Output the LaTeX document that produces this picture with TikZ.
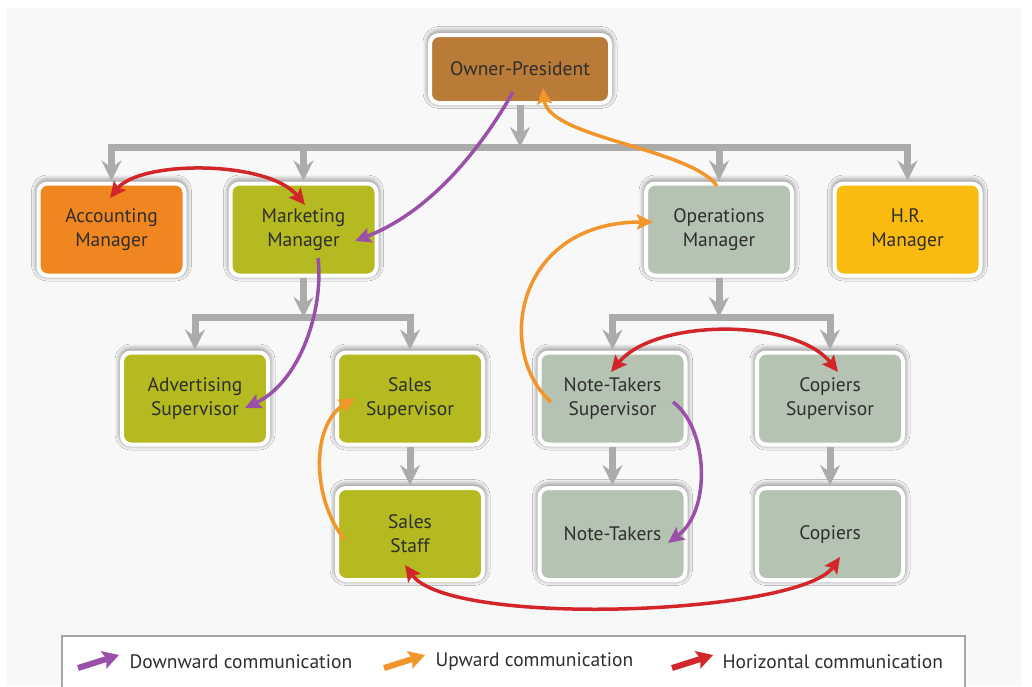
\documentclass[tikz,border=0pt]{standalone}
\usepackage{fontspec}
\setmainfont{PT Sans}
\usetikzlibrary{arrows.meta,calc,shadows.blur}
\definecolor{ownc}{HTML}{B97B37}
\definecolor{accc}{HTML}{F0861F}
\definecolor{olive}{HTML}{B4BA1F}
\definecolor{sage}{HTML}{B5C3B2}
\definecolor{hrc}{HTML}{F9BB10}
\definecolor{txt}{HTML}{2E2E2E}
\definecolor{treegray}{HTML}{ABABAB}
\definecolor{purp}{HTML}{9A4FA8}
\definecolor{orng}{HTML}{F2952B}
\definecolor{redc}{HTML}{D3262B}
\definecolor{bgc}{HTML}{F8F8F8}
\begin{document}
\begin{tikzpicture}[x=1pt,y=-1pt,
  box/.style={rounded corners=9pt, draw=white, line width=4pt,
    minimum width=146pt, minimum height=92pt, align=center, text=txt,
    font=\fontsize{19.5}{24}\selectfont,
    blur shadow={shadow xshift=0pt, shadow yshift=1.5pt, shadow blur radius=7pt, shadow opacity=70, shadow blur steps=10}},
  tree/.style={draw=treegray, line width=7pt},
  treebar/.style={tree, line cap=rect},
  treearrow/.style={tree, -{Stealth[width=20pt,length=20pt,inset=7pt]}},
  comm/.style={line width=3.5pt, -{Stealth[width=15pt,length=16pt,inset=3pt]}},
  commtwo/.style={line width=3.5pt, {Stealth[width=15pt,length=16pt,inset=3pt]}-{Stealth[width=15pt,length=16pt,inset=3pt]}},
  legarrow/.style={line width=6pt, -{Stealth[width=18pt,length=16pt,inset=3pt]}},
  legtext/.style={anchor=west, text=txt, font=\fontsize{19.5}{22}\selectfont}
]
\useasboundingbox (0,0) rectangle (1032,686);
\fill[white] (0,0) rectangle (1032,686);
\fill[bgc] (7,8) rectangle (1022,686);

% nodes
\node[box, fill=ownc, minimum width=180pt, minimum height=68pt] (own) at (520,69) {Owner-President};
\node[box, fill=accc] (acc) at (111.5,229.5) {Accounting\\Manager};
\node[box, fill=olive] (mkt) at (303.5,229.5) {Marketing\\Manager};
\node[box, fill=sage] (ops) at (719,229.5) {Operations\\Manager};
\node[box, fill=hrc] (hr) at (907.5,229.5) {H.R.\\Manager};
\node[box, fill=olive] (adv) at (195,398.5) {Advertising\\Supervisor};
\node[box, fill=olive] (ssup) at (410,398.5) {Sales\\Supervisor};
\node[box, fill=sage] (ntsup) at (612.5,398.5) {Note-Takers\\Supervisor};
\node[box, fill=sage] (csup) at (830,398.5) {Copiers\\Supervisor};
\node[box, fill=olive] (staff) at (410,534) {Sales\\Staff};
\node[box, fill=sage] (nt) at (612.5,534) {Note-Takers};
\node[box, fill=sage] (cop) at (830,534) {Copiers};

% gray hierarchy
\coordinate (b1) at (520,147);
\coordinate (b2) at (303.5,317);
\coordinate (b3) at (719,317);
\draw[treebar] (acc |- b1) -- (hr |- b1);
\draw[treearrow] (own.south) -- (own |- b1);
\foreach \n in {acc,mkt,ops,hr} \draw[treearrow] (\n |- b1) -- ([yshift=1pt]\n.north);
\draw[treebar] (adv |- b2) -- (ssup |- b2);
\draw[treearrow] (mkt.south) -- (mkt |- b2);
\foreach \n in {adv,ssup} \draw[treearrow] (\n |- b2) -- ([yshift=1pt]\n.north);
\draw[treebar] (ntsup |- b3) -- (csup |- b3);
\draw[treearrow] (ops.south) -- (ops |- b3);
\foreach \n in {ntsup,csup} \draw[treearrow] (\n |- b3) -- ([yshift=1pt]\n.north);
\draw[treearrow] (ssup.south) -- ([yshift=1pt]staff.north);
\draw[treearrow] (ntsup.south) -- ([yshift=1pt]nt.north);
\draw[treearrow] (csup.south) -- ([yshift=1pt]cop.north);

% downward (purple)
\draw[comm, purp] ($(own.center)+(-7,23)$) .. controls (480,150) and (430,212) .. ($(mkt.center)+(51.5,11.5)$);
\draw[comm, purp] ($(mkt.center)+(14.5,28.5)$) .. controls (324,310) and (300,382) .. ($(adv.center)+(50,9.5)$);
\draw[comm, purp] ($(ntsup.center)+(60.5,3.5)$) .. controls (708,428) and (712,510) .. ($(nt.center)+(55.5,9)$);

% upward (orange)
\draw[comm, orng] ($(ops.center)+(-2,-43.5)$) .. controls (690,148) and (548,138) .. ($(own.center)+(23,19)$);
\draw[comm, orng] ($(ntsup.center)+(-61.5,3.5)$) .. controls (495,352) and (515,222) .. ($(ops.center)+(-66,-7.5)$);
\draw[comm, orng] ($(staff.center)+(-65,6)$) .. controls (312,500) and (310,425) .. ($(ssup.center)+(-55,-0.5)$);

% horizontal (red)
\draw[commtwo, redc] ($(acc.center)+(-1.5,-31.5)$) .. controls (140,160) and (268,160) .. ($(mkt.center)+(1.5,-24.5)$);
\draw[commtwo, redc] ($(ntsup.center)+(-1.5,-26.5)$) .. controls (655,318) and (795,318) .. ($(csup.center)+(8,-26.5)$);
\draw[commtwo, redc] ($(staff.center)+(-5,31)$) .. controls (450,628) and (800,615) .. ($(cop.center)+(10,23)$);

% legend
\draw[draw=gray!70, line width=1.5pt, fill=white] (62,636) rectangle (965,700);
\coordinate (la1) at (78,668); \coordinate (lb1) at (119,655);
\coordinate (la2) at (384,668); \coordinate (lb2) at (425,655);
\coordinate (la3) at (672,668); \coordinate (lb3) at (713,655);
\draw[legarrow, purp] (la1) -- (lb1);
\draw[legarrow, orng] (la2) -- (lb2);
\draw[legarrow, redc] (la3) -- (lb3);
\node[legtext] (l1) at (126,662) {Downward communication};
\node[legtext] (l2) at (432,662) {Upward communication};
\node[legtext] (l3) at (719,662) {Horizontal communication};
\end{tikzpicture}
\end{document}
